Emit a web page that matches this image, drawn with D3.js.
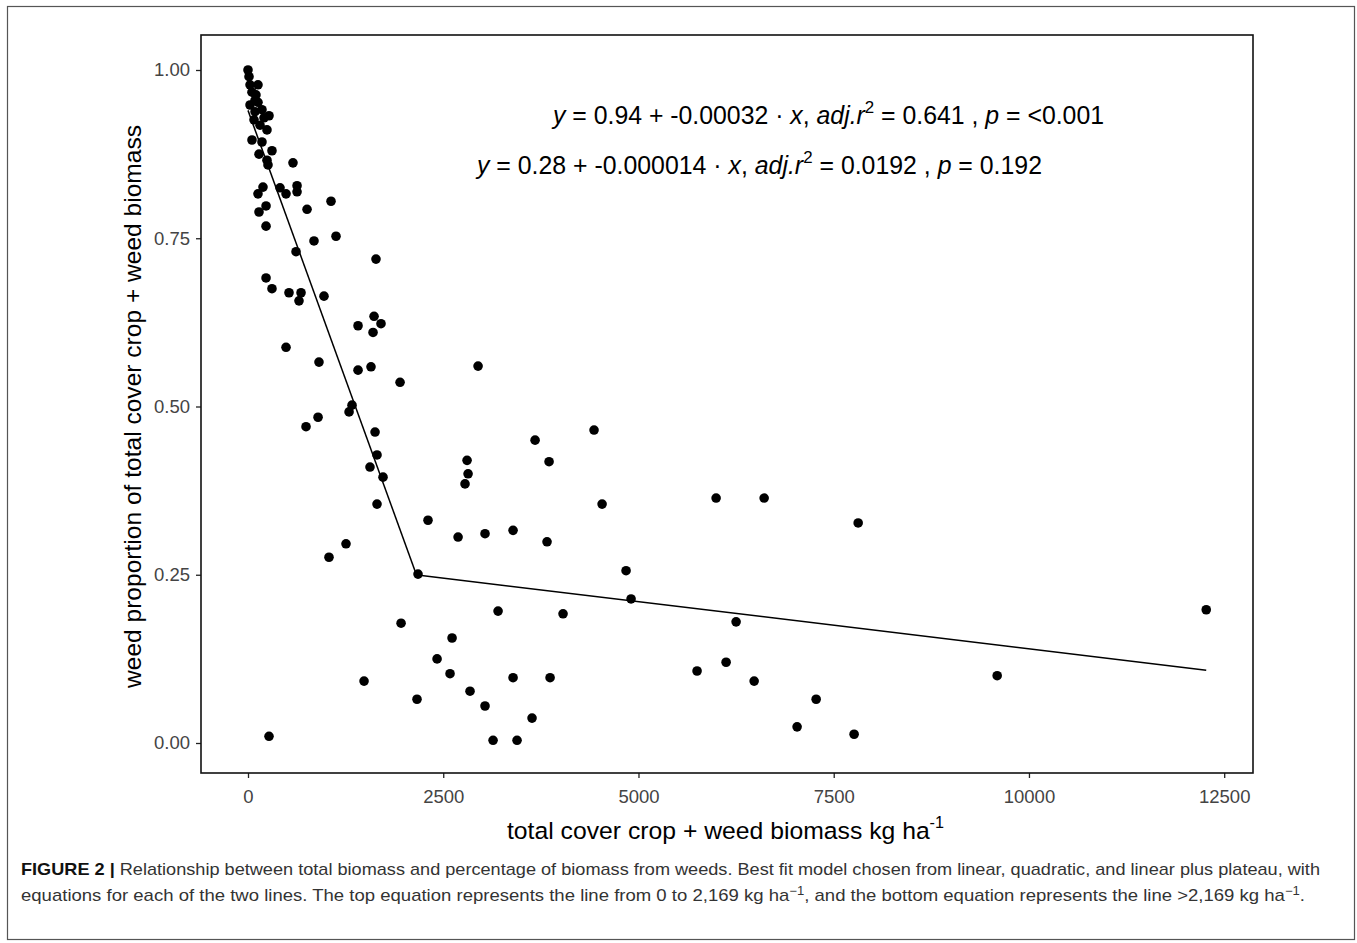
<!DOCTYPE html>
<html><head><meta charset="utf-8">
<script src="https://cdn.jsdelivr.net/npm/d3@7"></script>
<style>body{margin:0;background:#fff;} svg{display:block;}</style>
</head><body>
<script>
// total biomass (kg/ha)
const biomass = [0,13,26,128,51,102,90,128,26,179,90,269,77,205,154,243,51,179,307,141,243,256,576,192,128,410,487,628,628,1063,756,231,141,231,845,1127,615,1639,231,307,525,679,653,973,1614,1409,1703,1601,487,909,1409,1575,1947,1332,1294,897,743,1627,1652,1562,1729,1652,2305,1255,1037,2177,2946,4431,3676,2805,3855,2818,2779,4534,5994,6609,7813,2690,3035,3394,3829,4841,4905,4034,3202,12270,1960,6250,2613,2421,6122,5750,2587,9593,1486,3394,3868,6481,2843,2164,7275,3035,3637,7031,7761,269,3138,3445];
// weed proportion
const weedProp = [1.000,0.990,0.978,0.978,0.967,0.963,0.955,0.952,0.948,0.941,0.938,0.932,0.926,0.929,0.918,0.911,0.896,0.893,0.880,0.875,0.866,0.859,0.862,0.826,0.816,0.825,0.816,0.828,0.819,0.805,0.793,0.798,0.789,0.768,0.746,0.753,0.730,0.719,0.691,0.675,0.669,0.669,0.657,0.664,0.634,0.620,0.623,0.610,0.588,0.566,0.554,0.559,0.536,0.502,0.492,0.484,0.470,0.462,0.428,0.410,0.395,0.355,0.331,0.296,0.276,0.251,0.560,0.465,0.450,0.420,0.418,0.400,0.385,0.355,0.364,0.364,0.327,0.306,0.311,0.316,0.299,0.256,0.214,0.192,0.196,0.198,0.178,0.180,0.156,0.125,0.120,0.107,0.103,0.100,0.092,0.097,0.097,0.092,0.077,0.065,0.065,0.055,0.037,0.024,0.013,0.010,0.004,0.004];
// fitted segments: intercept, slope, x range
const segIntercepts = [0.94, 0.28];
const segSlopes = [-0.00032, -0.000014];
const segStarts = [0, 2169];
const segEnds = [2169, 12270];
const xTicks = [0, 2500, 5000, 7500, 10000, 12500];
const yTicks = [0, 0.25, 0.5, 0.75, 1.0];

const W = 1357, H = 943;
const svg = d3.select("body").append("svg").attr("width", W).attr("height", H);
const F = "'Liberation Sans', Arial, sans-serif";

// outer frame
svg.append("rect").attr("x", 7.5).attr("y", 6.5).attr("width", 1347).attr("height", 933)
  .attr("fill", "none").attr("stroke", "#555").attr("stroke-width", 1.2);

const L = 201, R = 1253, T = 35, B = 773;
const x = d3.scaleLinear().domain([0, 12500]).range([248, 1224.2]);
const y = d3.scaleLinear().domain([0, 1]).range([743, 70]);

// axes
const xAxis = svg.append("g").attr("transform", `translate(0,${B})`)
  .call(d3.axisBottom(x).tickValues(xTicks).tickSize(5).tickPadding(12).tickFormat(d3.format("d")));
const yAxis = svg.append("g").attr("transform", `translate(${L},0)`)
  .call(d3.axisLeft(y).tickValues(yTicks).tickSize(5).tickPadding(6).tickFormat(d3.format(".2f")));
[xAxis, yAxis].forEach(a => {
  a.select(".domain").remove();
  a.selectAll(".tick line").attr("stroke", "#222").attr("stroke-width", 1.3);
  a.selectAll(".tick text").attr("fill", "#444").attr("font-family", F).attr("font-size", 18.5);
});

// panel border
svg.append("rect").attr("x", L).attr("y", T).attr("width", R - L).attr("height", B - T)
  .attr("fill", "none").attr("stroke", "#111").attr("stroke-width", 1.6);

// points
svg.append("g").selectAll("circle").data(biomass.map((b, i) => [b, weedProp[i]]))
  .join("circle").attr("cx", d => x(d[0])).attr("cy", d => y(d[1])).attr("r", 4.8).attr("fill", "#000");

// fitted lines
const line = d3.line().x(d => x(d[0])).y(d => y(d[1]));
segIntercepts.forEach((a, i) => {
  const pts = [segStarts[i], segEnds[i]].map(v => [v, a + segSlopes[i] * v]);
  svg.append("path").attr("d", line(pts)).attr("fill", "none").attr("stroke", "#000").attr("stroke-width", 1.5);
});

// equations
function eq(xp, yp, parts, len) {
  const t = svg.append("text").attr("x", xp).attr("y", yp).attr("font-family", F).attr("font-size", 25).attr("fill", "#000")
    .attr("textLength", len).attr("lengthAdjust", "spacingAndGlyphs");
  parts.forEach(p => {
    const s = t.append("tspan").text(p.t);
    if (p.i) s.attr("font-style", "italic");
    if (p.sup) s.attr("font-size", 17).attr("dy", -11);
    if (p.dn) s.attr("dy", 11);
  });
}
eq(553, 124, [{t:"y", i:1},{t:" = 0.94 + -0.00032 · "},{t:"x", i:1},{t:",  "},{t:"adj.r", i:1},{t:"2", sup:1},{t:" = 0.641 ,  ", dn:1},{t:"p", i:1},{t:" = <0.001"}], 551);
eq(477, 174, [{t:"y", i:1},{t:" = 0.28 + -0.000014 · "},{t:"x", i:1},{t:",  "},{t:"adj.r", i:1},{t:"2", sup:1},{t:" = 0.0192 ,  ", dn:1},{t:"p", i:1},{t:" = 0.192"}], 565);

// axis titles
const xt = svg.append("text").attr("x", 507).attr("y", 839)
  .attr("font-family", F).attr("font-size", 24.5).attr("fill", "#000")
  .attr("textLength", 437).attr("lengthAdjust", "spacingAndGlyphs");
xt.append("tspan").text("total cover crop + weed biomass kg ha");
xt.append("tspan").text("-1").attr("font-size", 16).attr("dy", -11);

svg.append("text").attr("transform", "translate(141,688) rotate(-90)")
  .attr("font-family", F).attr("font-size", 24.5).attr("fill", "#000")
  .attr("textLength", 563).attr("lengthAdjust", "spacingAndGlyphs")
  .text("weed proportion of total cover crop + weed biomass");

// caption
const cap1 = svg.append("text").attr("x", 21).attr("y", 875).attr("font-family", F).attr("font-size", 17).attr("fill", "#333")
  .attr("textLength", 1299).attr("lengthAdjust", "spacingAndGlyphs");
cap1.append("tspan").text("FIGURE 2 | ").attr("font-weight", "bold").attr("fill", "#111");
cap1.append("tspan").text("Relationship between total biomass and percentage of biomass from weeds. Best fit model chosen from linear, quadratic, and linear plus plateau, with");
const cap2 = svg.append("text").attr("x", 21).attr("y", 901).attr("font-family", F).attr("font-size", 17).attr("fill", "#333")
  .attr("textLength", 1284).attr("lengthAdjust", "spacingAndGlyphs");
cap2.append("tspan").text("equations for each of the two lines. The top equation represents the line from 0 to 2,169 kg ha");
cap2.append("tspan").text("−1").attr("font-size", 12).attr("dy", -6);
cap2.append("tspan").text(", and the bottom equation represents the line >2,169 kg ha").attr("dy", 6);
cap2.append("tspan").text("−1").attr("font-size", 12).attr("dy", -6);
cap2.append("tspan").text(".").attr("dy", 6);
</script>
</body></html>
